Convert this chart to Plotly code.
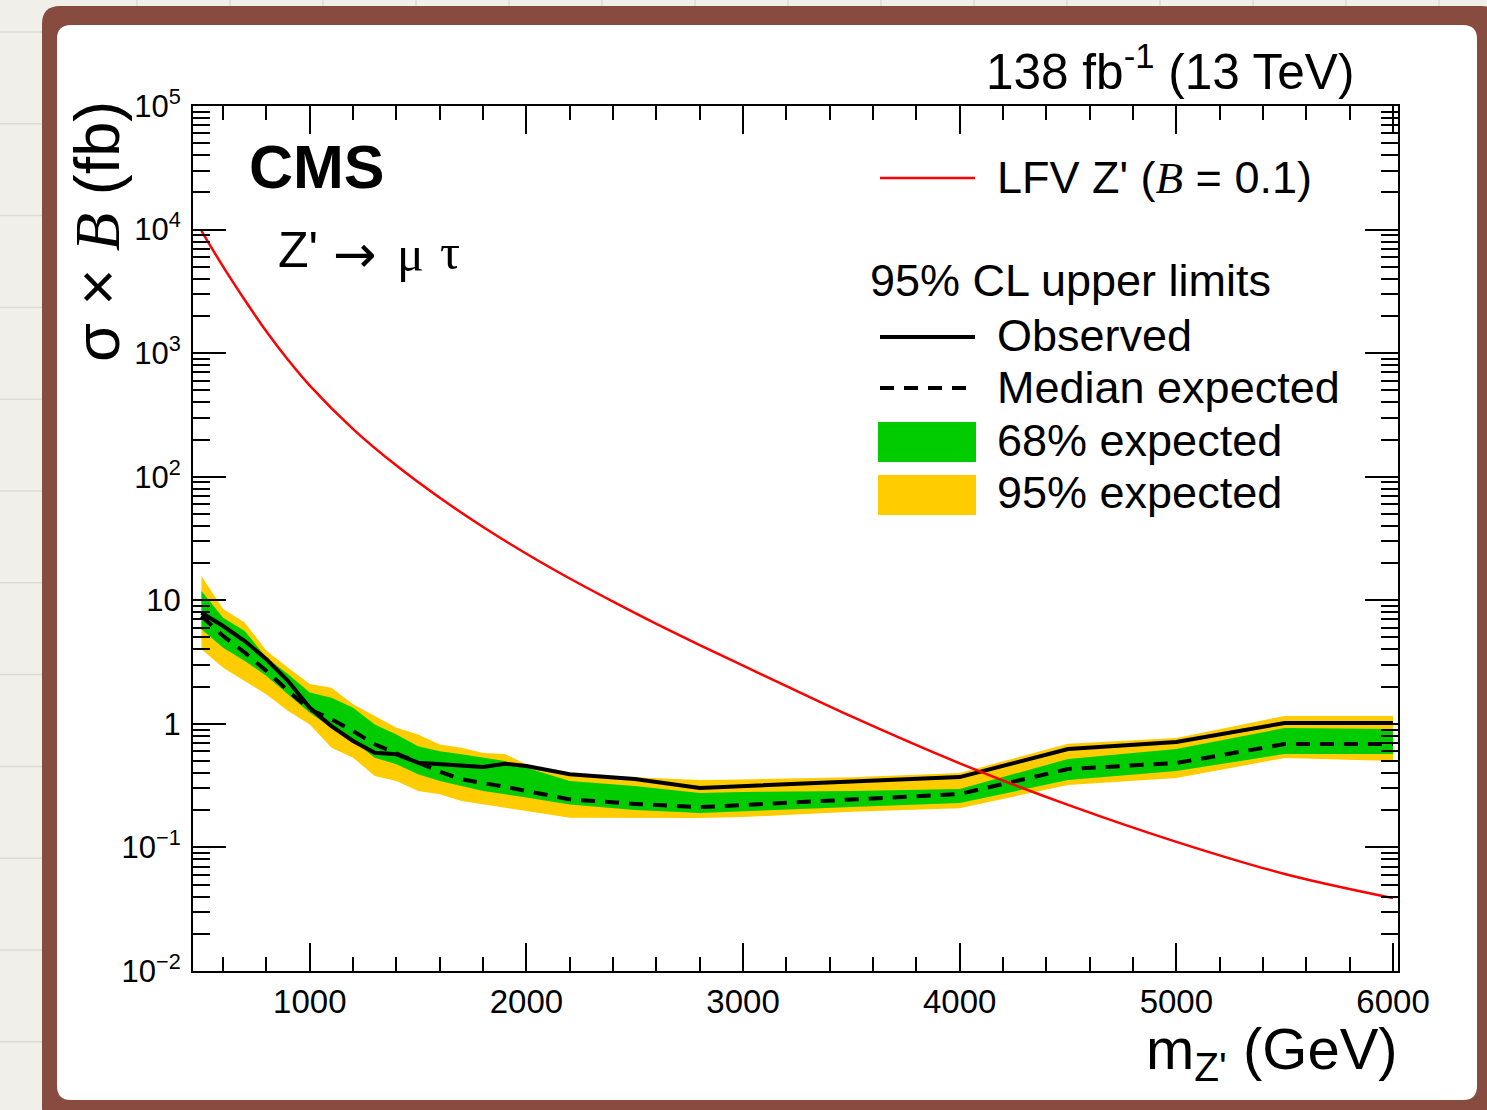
import plotly.graph_objects as go

# ---------------- data ----------------
mass = [500, 600, 700, 800, 900, 1000, 1100, 1200, 1300, 1400, 1500, 1600, 1700,
        1800, 1900, 2000, 2200, 2500, 2800, 3000, 3500, 4000, 4500, 5000, 5500, 6000]
observed = [7.93, 6.19, 4.68, 3.33, 2.22, 1.35, 0.96, 0.727, 0.584, 0.567, 0.485, 0.471, 0.465,
            0.448, 0.476, 0.456, 0.391, 0.358, 0.303, 0.314, 0.338, 0.371, 0.626, 0.713, 1.016, 1.016]
expected = [7.46, 5.14, 3.77, 2.68, 1.85, 1.31, 1.09, 0.875, 0.683, 0.573, 0.485, 0.410, 0.356,
            0.334, 0.310, 0.286, 0.245, 0.225, 0.212, 0.220, 0.246, 0.271, 0.431, 0.482, 0.687, 0.687]
band68_lo = [5.82, 4.13, 3.23, 2.44, 1.73, 1.23, 0.931, 0.727, 0.532, 0.471, 0.391, 0.345, 0.314,
             0.286, 0.269, 0.253, 0.223, 0.201, 0.190, 0.197, 0.212, 0.229, 0.351, 0.415, 0.570, 0.570]
band68_hi = [11.9, 7.23, 5.64, 3.43, 2.52, 1.79, 1.63, 1.35, 0.99, 0.82, 0.66, 0.60, 0.567,
             0.532, 0.50, 0.442, 0.345, 0.314, 0.276, 0.281, 0.286, 0.297, 0.52, 0.626, 0.926, 0.91]
band95_lo = [4.01, 2.85, 2.22, 1.73, 1.27, 0.99, 0.641, 0.532, 0.378, 0.345, 0.286, 0.269, 0.237,
             0.223, 0.210, 0.197, 0.174, 0.173, 0.173, 0.176, 0.194, 0.208, 0.320, 0.365, 0.529, 0.50]
band95_hi = [15.7, 8.5, 6.6, 3.9, 2.85, 2.1, 1.96, 1.44, 1.16, 0.93, 0.82, 0.68, 0.64,
             0.58, 0.57, 0.47, 0.39, 0.371, 0.351, 0.355, 0.37, 0.40, 0.69, 0.77, 1.16, 1.16]

theory_mass = [500, 600, 700, 800, 900, 1000, 1200, 1400, 1600, 1800, 2000, 2200, 2400,
               2600, 2800, 3000, 3200, 3500, 4000, 4500, 5000, 5500, 6000]
theory_xsec = [9770, 5010, 2690, 1496, 881, 546, 243, 123, 67.5, 39.2, 23.8, 15.0, 9.75,
               6.44, 4.34, 2.96, 2.02, 1.148, 0.479, 0.221, 0.111, 0.061, 0.0389]

x_major = [1000, 2000, 3000, 4000, 5000, 6000]
x_major_text = ["1000", "2000", "3000", "4000", "5000", "6000"]
x_minor = [600, 800, 1200, 1400, 1600, 1800, 2200, 2400, 2600, 2800, 3200, 3400, 3600, 3800,
           4200, 4400, 4600, 4800, 5200, 5400, 5600, 5800]
y_major = [1e-2, 1e-1, 1, 10, 1e2, 1e3, 1e4, 1e5]
y_major_text = ["10<sup>\u22122</sup>", "10<sup>\u22121</sup>", "1", "10",
                "10<sup>2</sup>", "10<sup>3</sup>", "10<sup>4</sup>", "10<sup>5</sup>"]
y_minor = [m * 10.0 ** k for k in range(-2, 5) for m in range(2, 10)]

# ---------------- layout geometry ----------------
W, H = 1487, 1110
L, R, T, B = 193, 89, 106, 139
PW, PH = W - L - R, H - T - B
FONT = "Liberation Sans, Arial, Helvetica, sans-serif"
SERIF = "Liberation Serif, Times New Roman, serif"
GREEN = "#00cc00"
YELLOW = "#ffcc00"
BROWN = "#874b3f"


def px(x):
    return (x - L) / PW


def py(y):
    return (H - B - y) / PH


fig = go.Figure()

# 95% band
fig.add_trace(go.Scatter(x=mass + mass[::-1], y=band95_hi + band95_lo[::-1], fill="toself",
                         fillcolor=YELLOW, line=dict(width=0), mode="lines",
                         hoverinfo="skip", showlegend=False))
# 68% band
fig.add_trace(go.Scatter(x=mass + mass[::-1], y=band68_hi + band68_lo[::-1], fill="toself",
                         fillcolor=GREEN, line=dict(width=0), mode="lines",
                         hoverinfo="skip", showlegend=False))
# expected
fig.add_trace(go.Scatter(x=mass, y=expected, mode="lines",
                         line=dict(color="black", width=4, dash="14px,10px"), showlegend=False))
# observed
fig.add_trace(go.Scatter(x=mass, y=observed, mode="lines",
                         line=dict(color="black", width=4), showlegend=False))
# theory
fig.add_trace(go.Scatter(x=theory_mass, y=theory_xsec, mode="lines",
                         line=dict(color="#ff0000", width=2.5, shape="spline", smoothing=1.0),
                         showlegend=False))

shapes = []
# faint paper grid of the backdrop
gy = 32.0
while gy < H:
    shapes.append(dict(type="line", xref="paper", yref="paper", x0=px(0), x1=px(W), y0=py(gy), y1=py(gy),
                       line=dict(color="#dcdbd4", width=1.5), layer="below"))
    gy += 91.8
gx = 137.0
while gx < W:
    shapes.append(dict(type="line", xref="paper", yref="paper", x0=px(gx), x1=px(gx), y0=py(0), y1=py(H),
                       line=dict(color="#dcdbd4", width=1.5), layer="below"))
    gx += 93.0


def rounded(x0, y0, x1, y1, r):
    X0, X1 = px(x0), px(x1)
    Y0, Y1 = py(y0), py(y1)
    rx, ry = r / PW, r / PH
    return (f"M {X0 + rx},{Y0} L {X1 - rx},{Y0} Q {X1},{Y0} {X1},{Y0 - ry} "
            f"L {X1},{Y1 + ry} Q {X1},{Y1} {X1 - rx},{Y1} L {X0 + rx},{Y1} "
            f"Q {X0},{Y1} {X0},{Y1 + ry} L {X0},{Y0 - ry} Q {X0},{Y0} {X0 + rx},{Y0} Z")


shapes.append(dict(type="path", xref="paper", yref="paper", path=rounded(42, 6, 1500, 1125, 18),
                   fillcolor=BROWN, line=dict(width=0), layer="below"))
shapes.append(dict(type="path", xref="paper", yref="paper", path=rounded(57, 25, 1477, 1100, 14),
                   fillcolor="white", line=dict(width=0), layer="below"))

# legend symbols
shapes.append(dict(type="line", xref="paper", yref="paper", x0=px(880), x1=px(975), y0=py(178), y1=py(178),
                   line=dict(color="#ff0000", width=2.5)))
shapes.append(dict(type="line", xref="paper", yref="paper", x0=px(880), x1=px(975), y0=py(337), y1=py(337),
                   line=dict(color="black", width=4)))
shapes.append(dict(type="line", xref="paper", yref="paper", x0=px(880), x1=px(966), y0=py(388), y1=py(388),
                   line=dict(color="black", width=4, dash="14px,10px")))
shapes.append(dict(type="rect", xref="paper", yref="paper", x0=px(878), x1=px(976), y0=py(462), y1=py(422),
                   fillcolor=GREEN, line=dict(width=0)))
shapes.append(dict(type="rect", xref="paper", yref="paper", x0=px(878), x1=px(976), y0=py(515), y1=py(475),
                   fillcolor=YELLOW, line=dict(width=0)))

serifB = "<i><span style='font-family:" + SERIF + "'>B</span></i>"


def ann(text, x, y, size, xanchor="left", yanchor="middle", angle=0, family=FONT):
    return dict(text=text, x=px(x), y=py(y), xref="paper", yref="paper", showarrow=False,
                xanchor=xanchor, yanchor=yanchor, textangle=angle,
                font=dict(family=family, size=size, color="black"))


annotations = [
    ann("138 fb<sup>-1</sup> (13 TeV)", 1356, 68, 49.5, xanchor="right"),
    ann("<b>CMS</b>", 247, 167, 61),
    # decay label: Z', long arrow, mu, tau
    ann("Z'", 276, 250, 50),
    ann("\u2192", 331, 254, 52, family="DejaVu Sans, sans-serif"),
    ann("\u03bc", 395, 254, 50, family=SERIF),
    ann("\u03c4", 438, 252, 50, family=SERIF),
    ann("LFV Z' (" + serifB + " = 0.1)", 995, 178, 45),
    ann("95% CL upper limits", 868, 280, 45),
    ann("Observed", 995, 335, 45),
    ann("Median expected", 995, 387, 45),
    ann("68% expected", 995, 440, 45),
    ann("95% expected", 995, 492, 45),
    ann("m<sub>Z'</sub> (GeV)", 1400, 1053, 58, xanchor="right"),
    ann("\u03c3 \u00d7 " + serifB + " (fb)", 97, 232, 63, xanchor="center", angle=-90),
]

axis_common = dict(showline=True, linecolor="black", linewidth=2, mirror="allticks",
                   ticks="inside", tickcolor="black", tickwidth=2, showgrid=False,
                   zeroline=False, layer="above traces")

fig.update_layout(
    width=W, height=H,
    margin=dict(l=L, r=R, t=T, b=B, pad=0),
    paper_bgcolor="#f0efea",
    plot_bgcolor="rgba(0,0,0,0)",
    showlegend=False,
    shapes=shapes,
    annotations=annotations,
    xaxis=dict(range=[461, 6023], tickmode="array", tickvals=x_major, ticktext=x_major_text,
               ticklen=28, tickfont=dict(family=FONT, size=33, color="black"),
               minor=dict(tickmode="array", tickvals=x_minor, ticklen=14, tickwidth=2,
                          tickcolor="black", ticks="inside", showgrid=False),
               **axis_common),
    yaxis=dict(type="log", range=[-2, 5], tickmode="array", tickvals=y_major, ticktext=y_major_text,
               ticklen=33, ticklabelstandoff=4, tickfont=dict(family=FONT, size=31, color="black"),
               minor=dict(tickmode="array", tickvals=y_minor, ticklen=17, tickwidth=2,
                          tickcolor="black", ticks="inside", showgrid=False),
               **axis_common),
)

fig.write_html("out.html")
